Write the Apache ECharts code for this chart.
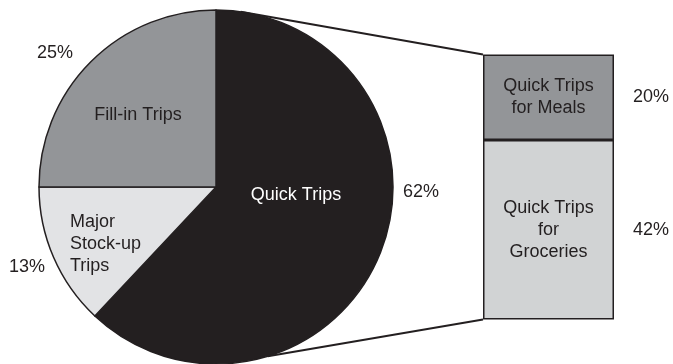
<!DOCTYPE html>
<html><head><meta charset="utf-8">
<script src="https://cdn.jsdelivr.net/npm/echarts@6/dist/echarts.min.js"></script>
<style>html,body{margin:0;padding:0;background:#fff}#c{width:673px;height:364px}</style>
</head><body><div id="c"></div>
<script>
// ---- data ----
const pieNames = ['Quick Trips', 'Major\nStock-up\nTrips', 'Fill-in Trips'];
const pieValues = [62, 13, 25];
const barNames = ['Quick Trips\nfor\nGroceries', 'Quick Trips\nfor Meals'];
const barValues = [42, 20];

// ---- style / layout ----
const INK = '#231f20';
const FONT = '"Liberation Sans", Arial, Helvetica, sans-serif';
const pieColors = [INK, '#e2e3e5', '#939598'];
const pieTextColors = ['#ffffff', INK, INK];
const barColors = ['#d1d3d4', '#939598'];
const CX = 216, CY = 187, R = 177;
const nameOffsets = [[80, 8, 'center'], [-146, 57, 'left'], [-78, -72, 'center']];
const pctOffsets = [[205, 5], [-189, 80], [-161, -134]];
const GRID = {left: 483, top: 54.5, width: 131, height: 265};
const connectAngles = [82, -73]; // degrees on the pie where the connector lines start

const chart = echarts.init(document.getElementById('c'), null, {renderer: 'canvas'});

const pieData = pieNames.map((n, i) => ({
  name: n, value: pieValues[i],
  itemStyle: {color: pieColors[i]},
  label: {color: pieTextColors[i]}
}));

const total = barValues.reduce((a, b) => a + b, 0);

chart.setOption({
  animation: false,
  textStyle: {fontFamily: FONT},
  grid: GRID,
  xAxis: {type: 'category', data: ['Quick Trips'], show: false},
  yAxis: {type: 'value', min: 0, max: total, show: false},
  series: [
    {
      type: 'pie', center: [CX, CY], radius: R, startAngle: 90, clockwise: true,
      silent: true, z: 2, avoidLabelOverlap: false,
      itemStyle: {borderColor: INK, borderWidth: 1.5},
      label: {show: true, position: 'inside', formatter: '{b}', fontSize: 18, lineHeight: 22, fontFamily: FONT, overflow: 'none'},
      labelLine: {show: false},
      labelLayout: p => ({x: CX + nameOffsets[p.dataIndex][0], y: CY + nameOffsets[p.dataIndex][1], align: nameOffsets[p.dataIndex][2], verticalAlign: 'middle'}),
      data: pieData
    },
    {
      type: 'pie', center: [CX, CY], radius: R, startAngle: 90, clockwise: true,
      silent: true, z: 1, avoidLabelOverlap: false,
      itemStyle: {color: 'rgba(0,0,0,0)', borderWidth: 0},
      label: {show: true, position: 'inside', formatter: '{c}%', fontSize: 18, color: INK, fontFamily: FONT, overflow: 'none'},
      labelLine: {show: false},
      labelLayout: p => ({x: CX + pctOffsets[p.dataIndex][0], y: CY + pctOffsets[p.dataIndex][1], align: 'center', verticalAlign: 'middle'}),
      data: pieNames.map((n, i) => ({name: n, value: pieValues[i]}))
    },
    ...barNames.map((n, i) => ({
      type: 'bar', stack: 'quick', barWidth: '100%', name: n, silent: true,
      itemStyle: {color: barColors[i], borderColor: INK, borderWidth: 1.5},
      label: {show: true, position: 'inside', formatter: n, color: INK, fontSize: 18, lineHeight: 22, fontFamily: FONT},
      data: [barValues[i]]
    }))
  ]
});

// connector lines and bar percentage labels from library scales
const yTop = chart.convertToPixel({yAxisIndex: 0}, total);
const yBot = chart.convertToPixel({yAxisIndex: 0}, 0);
const barLeft = GRID.left, barRight = GRID.left + GRID.width;
const pt = a => [CX + R * Math.cos(a * Math.PI / 180), CY - R * Math.sin(a * Math.PI / 180)];
const p1 = pt(connectAngles[0]), p2 = pt(connectAngles[1]);
const graphics = [
  {type: 'line', shape: {x1: p1[0], y1: p1[1], x2: barLeft, y2: yTop}, style: {stroke: INK, lineWidth: 2}, z: 10},
  {type: 'line', shape: {x1: p2[0], y1: p2[1], x2: barLeft, y2: yBot}, style: {stroke: INK, lineWidth: 2}, z: 10}
];
let cum = 0;
barValues.forEach(v => {
  const yMid = chart.convertToPixel({yAxisIndex: 0}, cum + v / 2);
  cum += v;
  graphics.push({type: 'text', x: barRight + 19, y: yMid, style: {text: v + '%', fill: INK, font: '18px ' + FONT, textVerticalAlign: 'middle', textAlign: 'left'}, z: 10});
});
chart.setOption({graphic: graphics});
</script>
</body></html>
